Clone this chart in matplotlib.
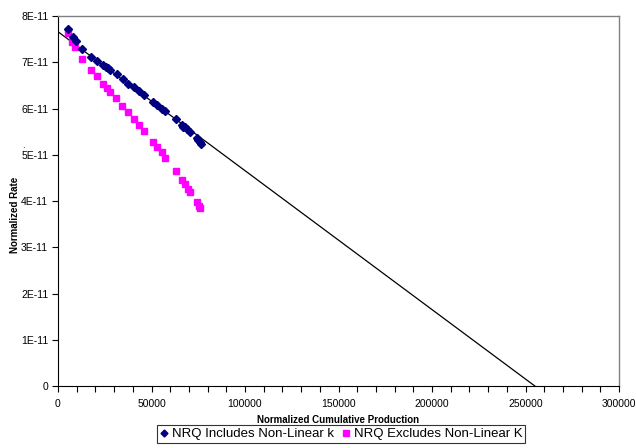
import matplotlib
matplotlib.use("Agg")
import matplotlib.pyplot as plt
from matplotlib.ticker import MultipleLocator

plt.rcParams['font.family'] = ['Liberation Sans', 'DejaVu Sans']

# Data
inc_x = [5510, 8200, 9470, 12670, 17650, 20680, 24240, 25670, 26920, 27800,
         31380, 34590, 37620, 40640, 43490, 46150, 50980, 53120, 55440, 57220,
         63100, 66150, 67000, 67920, 69170, 70590, 74150, 75000, 75940, 76500]
inc_y = [7.71, 7.55, 7.47, 7.28, 7.12, 7.03, 6.94, 6.90, 6.87, 6.83,
         6.74, 6.63, 6.54, 6.46, 6.38, 6.29, 6.15, 6.08, 6.00, 5.95,
         5.77, 5.64, 5.61, 5.59, 5.55, 5.50, 5.36, 5.32, 5.28, 5.24]

exc_x = [5510, 7500, 9090, 12670, 17650, 20680, 24240, 26380, 27800, 31020,
         34380, 37620, 40640, 43320, 45990, 50980, 53120, 55440, 57300, 63000,
         66150, 67920, 69350, 70590, 74150, 75400, 75940]
exc_y = [7.63, 7.43, 7.32, 7.07, 6.83, 6.70, 6.54, 6.44, 6.36, 6.22,
         6.06, 5.92, 5.77, 5.64, 5.51, 5.28, 5.16, 5.05, 4.94, 4.64,
         4.45, 4.36, 4.27, 4.20, 3.97, 3.89, 3.84]

line_x = [0, 255000]
line_y = [7.66, 0.0]

scale = 1e-11
y_ticks = [0, 1, 2, 3, 4, 5, 6, 7, 8]
y_ticklabels = ["0", "1E-11", "2E-11", "3E-11", "4E-11", "5E-11", "6E-11", "7E-11", "8E-11"]
x_ticks = [0, 50000, 100000, 150000, 200000, 250000, 300000]

series_labels = ["NRQ Includes Non-Linear k", "NRQ Excludes Non-Linear K"]

fig = plt.figure(figsize=(6.36, 4.48), dpi=100)
ax = fig.add_axes([58/636, (448-386)/448, (619-58)/636, (386-16)/448])

ax.plot(line_x, [v*scale for v in line_y], color='black', lw=0.9, zorder=1)
ax.plot(inc_x, [v*scale for v in inc_y], linestyle='none', marker='D', ms=4.4,
        color='#000080', mec='#000080', label=series_labels[0], zorder=3)
ax.plot(exc_x, [v*scale for v in exc_y], linestyle='none', marker='s', ms=4.6,
        color='#FF00FF', mec='#FF00FF', label=series_labels[1], zorder=2)

ax.set_xlim(0, 300000)
ax.set_ylim(0, 8*scale)
ax.set_xticks(x_ticks)
ax.set_xticklabels([str(v) for v in x_ticks])
ax.xaxis.set_minor_locator(MultipleLocator(10000))
ax.set_yticks([v*scale for v in y_ticks])
ax.set_yticklabels(y_ticklabels)

ax.tick_params(axis='both', which='major', direction='out', length=4, width=0.8,
               labelsize=7.5, pad=3, color='black')
ax.tick_params(axis='x', which='major', pad=5)
ax.tick_params(axis='x', which='minor', direction='out', length=4, width=0.8, color='black')

for s in ['top', 'right']:
    ax.spines[s].set_color('#808080')
    ax.spines[s].set_linewidth(1.0)
for s in ['left', 'bottom']:
    ax.spines[s].set_color('black')
    ax.spines[s].set_linewidth(0.8)

ax.set_xlabel("Normalized Cumulative Production", fontsize=7, fontweight='bold', labelpad=5)
ax.set_ylabel("Normalized Rate", fontsize=7, fontweight='bold')
ax.yaxis.set_label_coords((20-58)/561, (386-215)/370)

fig.text(23/636, 1-145/448, ".", fontsize=7, ha='center', va='center')

leg = fig.legend(loc='center', bbox_to_anchor=(341/636, 1-434/448), ncol=2,
                 fontsize=9.5, frameon=True, fancybox=False, edgecolor='black',
                 handlelength=0.6, handletextpad=0.3, columnspacing=0.6,
                 borderpad=0.25, markerscale=0.8, borderaxespad=0)
leg.get_frame().set_linewidth(0.8)

fig.savefig("out.png", dpi=100)
